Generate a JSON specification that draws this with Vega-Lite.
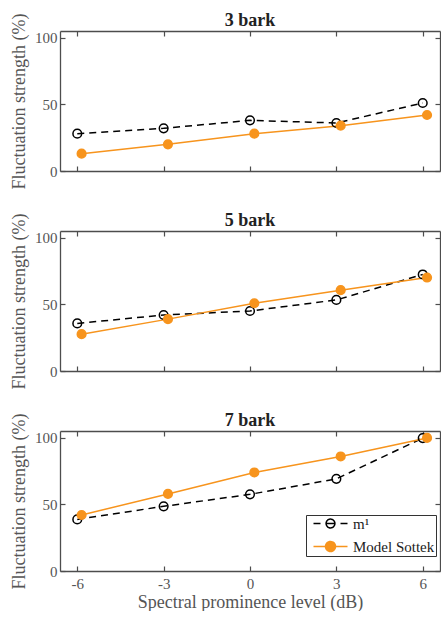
{
  "$schema": "https://vega.github.io/schema/vega-lite/v6.json",
  "background": "white",
  "padding": {"left": 10, "top": 12, "right": 0, "bottom": 0},
  "bounds": "flush",
  "spacing": 60,
  "config": {
    "font": "Liberation Serif",
    "view": {"stroke": null},
    "axis": {
      "labelFont": "Liberation Serif", "labelFontSize": 15, "labelColor": "#555555",
      "titleFont": "Liberation Serif", "titleFontSize": 18, "titleColor": "#555555", "titleFontWeight": "normal",
      "domainColor": "#4d4d4d", "domainWidth": 1.3,
      "tickColor": "#4d4d4d", "tickSize": -5, "tickWidth": 1.2, "grid": false
    },
    "title": {"font": "Liberation Serif", "fontSize": 18, "fontWeight": "bold", "color": "#222222", "frame": "group", "anchor": "middle", "offset": -17}
  },
  "resolve": {"scale": {"color": "independent"}, "legend": {"color": "independent"}},
  "data": {"values": [
    {"band": "3 bark", "series": "m¹", "db": -6, "value": 28},
    {"band": "3 bark", "series": "m¹", "db": -3, "value": 32},
    {"band": "3 bark", "series": "m¹", "db": 0, "value": 38},
    {"band": "3 bark", "series": "m¹", "db": 3, "value": 36},
    {"band": "3 bark", "series": "m¹", "db": 6, "value": 51},
    {"band": "3 bark", "series": "Model Sottek", "db": -5.85, "value": 13},
    {"band": "3 bark", "series": "Model Sottek", "db": -2.85, "value": 20},
    {"band": "3 bark", "series": "Model Sottek", "db": 0.15, "value": 28},
    {"band": "3 bark", "series": "Model Sottek", "db": 3.15, "value": 34},
    {"band": "3 bark", "series": "Model Sottek", "db": 6.15, "value": 42},
    {"band": "5 bark", "series": "m¹", "db": -6, "value": 35.7},
    {"band": "5 bark", "series": "m¹", "db": -3, "value": 42},
    {"band": "5 bark", "series": "m¹", "db": 0, "value": 45},
    {"band": "5 bark", "series": "m¹", "db": 3, "value": 53.3},
    {"band": "5 bark", "series": "m¹", "db": 6, "value": 72.4},
    {"band": "5 bark", "series": "Model Sottek", "db": -5.85, "value": 27.6},
    {"band": "5 bark", "series": "Model Sottek", "db": -2.85, "value": 38.9},
    {"band": "5 bark", "series": "Model Sottek", "db": 0.15, "value": 50.8},
    {"band": "5 bark", "series": "Model Sottek", "db": 3.15, "value": 60.6},
    {"band": "5 bark", "series": "Model Sottek", "db": 6.15, "value": 70.1},
    {"band": "7 bark", "series": "m¹", "db": -6, "value": 38.7},
    {"band": "7 bark", "series": "m¹", "db": -3, "value": 48.5},
    {"band": "7 bark", "series": "m¹", "db": 0, "value": 57.5},
    {"band": "7 bark", "series": "m¹", "db": 3, "value": 69.1},
    {"band": "7 bark", "series": "m¹", "db": 6, "value": 99.7},
    {"band": "7 bark", "series": "Model Sottek", "db": -5.85, "value": 42},
    {"band": "7 bark", "series": "Model Sottek", "db": -2.85, "value": 57.8},
    {"band": "7 bark", "series": "Model Sottek", "db": 0.15, "value": 73.9},
    {"band": "7 bark", "series": "Model Sottek", "db": 3.15, "value": 85.9},
    {"band": "7 bark", "series": "Model Sottek", "db": 6.15, "value": 99.8}
  ]},
  "vconcat": [
    {
      "title": {"text": "3 bark"},
      "width": 380, "height": 140,
      "transform": [{"filter": "datum.band === '3 bark'"}],
      "layer": [
        {"transform": [{"filter": "datum.series === 'm¹'"}],
         "mark": {"type": "line", "strokeWidth": 1.5, "color": "#000000", "strokeDash": [7, 5]},
         "encoding": {
           "x": {"field": "db", "type": "quantitative", "scale": {"domain": [-6.6, 6.6], "nice": false, "zero": false}, "axis": {"values": [-6, -3, 0, 3, 6], "labels": false, "title": null}},
           "y": {"field": "value", "type": "quantitative", "scale": {"domain": [0, 105], "nice": false}, "axis": {"values": [0, 50, 100], "title": "Fluctuation strength (%)", "labelPadding": 8, "titlePadding": 6}}
         }},
        {"transform": [{"filter": "datum.series === 'Model Sottek'"}],
         "mark": {"type": "line", "strokeWidth": 1.5, "color": "#F7941D"},
         "encoding": {
           "x": {"field": "db", "type": "quantitative", "axis": null},
           "y": {"field": "value", "type": "quantitative", "axis": null}
         }},
        {"mark": {"type": "point", "filled": false, "size": 75, "strokeWidth": 1.5, "opacity": 1},
         "encoding": {
           "x": {"field": "db", "type": "quantitative", "axis": null},
           "y": {"field": "value", "type": "quantitative", "axis": null},
           "stroke": {"field": "series", "type": "nominal", "scale": {"domain": ["m¹", "Model Sottek"], "range": ["#000000", "#F7941D"]}, "legend": null},
           "fill": {"condition": {"test": "datum.series === 'Model Sottek'", "value": "#F7941D"}, "value": "transparent"}
         }},
        {"mark": {"type": "point", "opacity": 0},
         "encoding": {
           "x": {"field": "db", "type": "quantitative", "axis": {"orient": "top", "values": [-6, -3, 0, 3, 6], "labels": false, "title": null}},
           "y": {"field": "value", "type": "quantitative", "axis": {"orient": "right", "values": [0, 50, 100], "labels": false, "title": null}}
         }}
      ],
      "resolve": {"axis": {"x": "independent", "y": "independent"}}
    },
    {
      "title": {"text": "5 bark"},
      "width": 380, "height": 140,
      "transform": [{"filter": "datum.band === '5 bark'"}],
      "layer": [
        {"transform": [{"filter": "datum.series === 'm¹'"}],
         "mark": {"type": "line", "strokeWidth": 1.5, "color": "#000000", "strokeDash": [7, 5]},
         "encoding": {
           "x": {"field": "db", "type": "quantitative", "scale": {"domain": [-6.6, 6.6], "nice": false, "zero": false}, "axis": {"values": [-6, -3, 0, 3, 6], "labels": false, "title": null}},
           "y": {"field": "value", "type": "quantitative", "scale": {"domain": [0, 105], "nice": false}, "axis": {"values": [0, 50, 100], "title": "Fluctuation strength (%)", "labelPadding": 8, "titlePadding": 6}}
         }},
        {"transform": [{"filter": "datum.series === 'Model Sottek'"}],
         "mark": {"type": "line", "strokeWidth": 1.5, "color": "#F7941D"},
         "encoding": {
           "x": {"field": "db", "type": "quantitative", "axis": null},
           "y": {"field": "value", "type": "quantitative", "axis": null}
         }},
        {"mark": {"type": "point", "filled": false, "size": 75, "strokeWidth": 1.5, "opacity": 1},
         "encoding": {
           "x": {"field": "db", "type": "quantitative", "axis": null},
           "y": {"field": "value", "type": "quantitative", "axis": null},
           "stroke": {"field": "series", "type": "nominal", "scale": {"domain": ["m¹", "Model Sottek"], "range": ["#000000", "#F7941D"]}, "legend": null},
           "fill": {"condition": {"test": "datum.series === 'Model Sottek'", "value": "#F7941D"}, "value": "transparent"}
         }},
        {"mark": {"type": "point", "opacity": 0},
         "encoding": {
           "x": {"field": "db", "type": "quantitative", "axis": {"orient": "top", "values": [-6, -3, 0, 3, 6], "labels": false, "title": null}},
           "y": {"field": "value", "type": "quantitative", "axis": {"orient": "right", "values": [0, 50, 100], "labels": false, "title": null}}
         }}
      ],
      "resolve": {"axis": {"x": "independent", "y": "independent"}}
    },
    {
      "title": {"text": "7 bark"},
      "width": 380, "height": 140,
      "transform": [{"filter": "datum.band === '7 bark'"}],
      "layer": [
        {"transform": [{"filter": "datum.series === 'm¹'"}],
         "mark": {"type": "line", "strokeWidth": 1.5, "color": "#000000", "strokeDash": [7, 5]},
         "encoding": {
           "x": {"field": "db", "type": "quantitative", "scale": {"domain": [-6.6, 6.6], "nice": false, "zero": false}, "axis": {"values": [-6, -3, 0, 3, 6], "labels": true, "labelExpr": "replace(datum.label, '−', '-')", "labelPadding": 10, "title": "Spectral prominence level (dB)", "titlePadding": 2}},
           "y": {"field": "value", "type": "quantitative", "scale": {"domain": [0, 105], "nice": false}, "axis": {"values": [0, 50, 100], "title": "Fluctuation strength (%)", "labelPadding": 8, "titlePadding": 6}}
         }},
        {"transform": [{"filter": "datum.series === 'Model Sottek'"}],
         "mark": {"type": "line", "strokeWidth": 1.5},
         "encoding": {
           "x": {"field": "db", "type": "quantitative", "axis": null},
           "y": {"field": "value", "type": "quantitative", "axis": null},
           "color": {"field": "series", "type": "nominal", "scale": {"domain": ["m¹", "Model Sottek"], "range": ["#000000", "#F7941D"]},
             "legend": {
               "title": null, "orient": "none", "legendX": 246, "legendY": 84,
               "fillColor": "white", "strokeColor": "#333333", "padding": 1,
               "labelFont": "Liberation Serif", "labelFontSize": 15, "labelColor": "#222222",
               "symbolSize": 100, "labelOffset": 31, "rowPadding": 6,
               "encode": {"symbols": {"update": {
                 "shape": {"signal": "datum.value === 'Model Sottek' ? 'M-0.2,0L6.6,0M4.2,0A1,1 0 1 1 2.2,0A1,1 0 1 1 4.2,0' : 'M-0.2,0L1.2,0M2.4,0L4,0M5.2,0L6.6,0M4.08,0A0.88,0.88 0 1 1 2.32,0A0.88,0.88 0 1 1 4.08,0'"},
                 "fill": {"signal": "datum.value === 'Model Sottek' ? '#F7941D' : 'transparent'"},
                 "stroke": {"signal": "datum.value === 'Model Sottek' ? '#F7941D' : '#000000'"},
                 "strokeWidth": {"value": 1.5},
                 "strokeDash": {"value": [1, 0]},
                 "opacity": {"value": 1}
               }}}
             }}
         }},
        {"mark": {"type": "point", "filled": false, "size": 75, "strokeWidth": 1.5, "opacity": 1},
         "encoding": {
           "x": {"field": "db", "type": "quantitative", "axis": null},
           "y": {"field": "value", "type": "quantitative", "axis": null},
           "stroke": {"field": "series", "type": "nominal", "scale": {"domain": ["m¹", "Model Sottek"], "range": ["#000000", "#F7941D"]}, "legend": null},
           "fill": {"condition": {"test": "datum.series === 'Model Sottek'", "value": "#F7941D"}, "value": "transparent"}
         }},
        {"mark": {"type": "point", "opacity": 0},
         "encoding": {
           "x": {"field": "db", "type": "quantitative", "axis": {"orient": "top", "values": [-6, -3, 0, 3, 6], "labels": false, "title": null}},
           "y": {"field": "value", "type": "quantitative", "axis": {"orient": "right", "values": [0, 50, 100], "labels": false, "title": null}}
         }}
      ],
      "resolve": {"axis": {"x": "independent", "y": "independent"}}
    }
  ]
}
